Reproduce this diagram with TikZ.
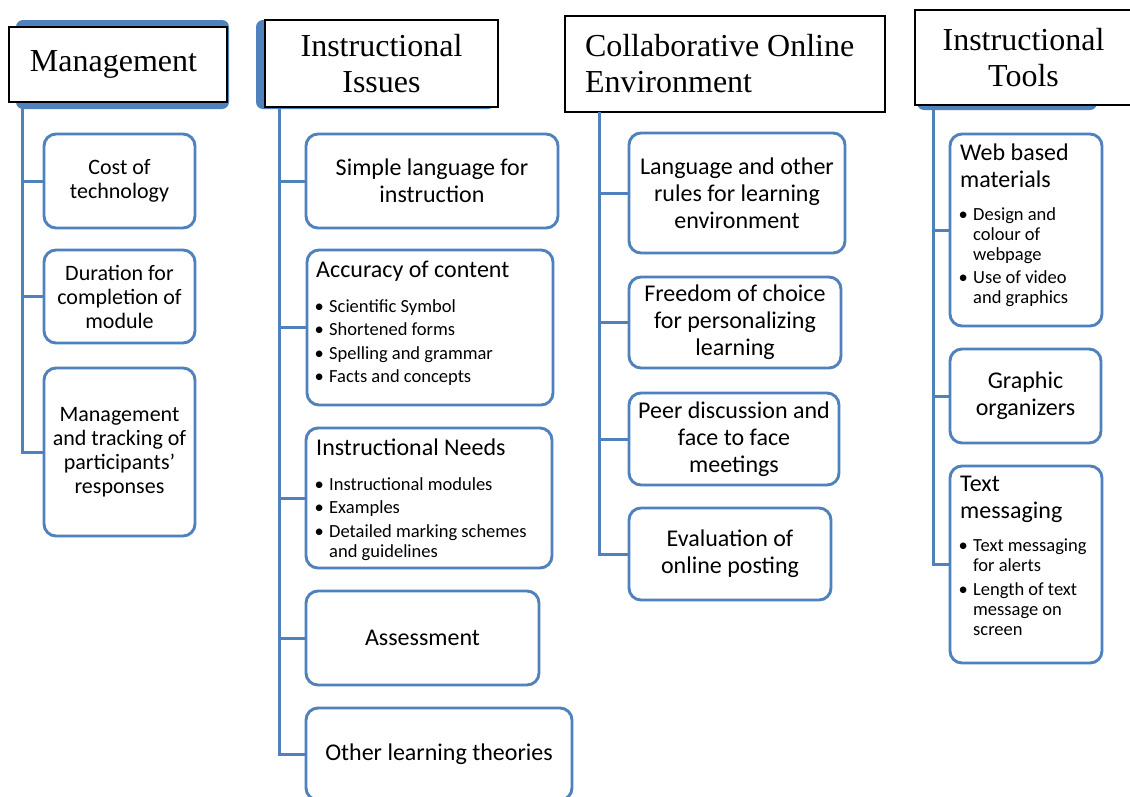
\documentclass[tikz,border=0pt]{standalone}
\usepackage{fontspec}
\setmainfont{Carlito}
\newfontfamily\headfont{Liberation Serif}
\definecolor{smartblue}{RGB}{79,129,189}

% lines of the sub-lists inside the boxes
\newcommand\hl[1]{\hbox{#1}}% heading line
\newcommand\bl[1]{\hbox{\makebox[13pt][l]{\kern-1.5pt\textbullet}#1}}% bulleted line
\newcommand\cl[1]{\hbox{\hspace*{13pt}#1}}% continued line of a bullet
\newcommand\itemgap{\vskip3.5pt}
\newcommand\listfont{\fontsize{18.5}{20}\selectfont\vskip13pt}

\tikzset{
  box/.style={draw=smartblue, line width=2.9pt, rounded corners=12pt, fill=white,
    inner sep=4pt, align=center, font=\fontsize{24}{27}\selectfont},
  mbox/.style={box, font=\fontsize{22}{24}\selectfont},
  band/.style={fill=smartblue, rounded corners=7pt, inner sep=0pt},
  head/.style={draw=black, line width=2.2pt, fill=white, inner sep=0pt,
    font=\headfont\fontsize{32}{36}\selectfont, align=center},
  conn/.style={draw=smartblue, line width=3pt},
  listtext/.style={anchor=north west, inner sep=0pt, font=\fontsize{24}{27}\selectfont},
}

\begin{document}
\begin{tikzpicture}[x=1pt,y=-1pt]
\useasboundingbox (0,0) rectangle (1130,796);
\clip (0,0) rectangle (1130,796);
\fill[white] (0,0) rectangle (1130,796);

% ---- column headers
\node[band, minimum width=213pt, minimum height=89pt] (mgmtband) at (122.5,64.5) {};
\node[head, minimum width=218pt, minimum height=75pt] (mgmt) at (118,64.5) {Management\hspace*{9pt}};

\node[band, minimum width=239pt, minimum height=89pt] (issband) at (375.5,64.5) {};
\node[head, minimum width=233pt, minimum height=87pt] (iss) at (381.5,63.5) {Instructional\\Issues};

\node[head, minimum width=320pt, minimum height=96pt] (coll) at (725,64)
  {\parbox{280pt}{Collaborative Online\\Environment}};

\node[band, minimum width=180pt, minimum height=90pt] (toolband) at (1007,65) {};
\node[head, minimum width=217pt, minimum height=95pt] (tool) at (1023.5,57.5) {Instructional\\Tools};

% ---- Management
\node[mbox, minimum width=151pt, minimum height=94pt] (cost) at (119.5,181) {Cost of\\technology};
\node[mbox, minimum width=151pt, minimum height=93pt] (dur) at (119.5,296.5) {Duration for\\completion of\\module};
\node[mbox, minimum width=151pt, minimum height=168pt] (track) at (119.5,452)
  {Management\\and tracking of\\participants'\\responses};

% ---- Instructional Issues
\node[box, minimum width=252pt, minimum height=94pt] (simple) at (432,181) {Simple language for\\instruction};
\node[box, minimum width=246pt, minimum height=155pt] (accur) at (430,327.5) {};
\node[listtext] (accurtext) at (316,258) {\vbox{%
  \hl{\strut Accuracy of content}\listfont
  \bl{Scientific Symbol}\itemgap
  \bl{Shortened forms}\itemgap
  \bl{Spelling and grammar}\itemgap
  \bl{Facts and concepts}}};
\node[box, minimum width=246pt, minimum height=140pt] (needs) at (429,498) {};
\node[listtext] (needstext) at (316,436) {\vbox{%
  \hl{\strut Instructional Needs}\listfont
  \bl{Instructional modules}\itemgap
  \bl{Examples}\itemgap
  \bl{Detailed marking schemes}
  \cl{and guidelines}}};
\node[box, minimum width=233pt, minimum height=94pt] (assess) at (422.5,638) {Assessment};
\node[box, minimum width=266pt, minimum height=92pt] (other) at (439,754) {Other learning theories};

% ---- Collaborative Online Environment
\node[box, minimum width=216pt, minimum height=120pt] (rules) at (737,193) {Language and other\\rules for learning\\environment};
\node[box, minimum width=212pt, minimum height=91pt] (choice) at (735,322.5) {Freedom of choice\\for personalizing\\learning};
\node[box, minimum width=210pt, minimum height=92pt] (peer) at (734,439) {Peer discussion and\\face to face\\meetings};
\node[box, minimum width=202pt, minimum height=92pt] (evalp) at (730,554) {Evaluation of\\online posting};

% ---- Instructional Tools
\node[box, minimum width=152pt, minimum height=192pt] (web) at (1026,230) {};
\node[listtext] (webtext) at (960,141) {\vbox{%
  \hl{\strut Web based}
  \hl{materials}\listfont
  \bl{Design and}
  \cl{colour of}
  \cl{webpage}\itemgap
  \bl{Use of video}
  \cl{and graphics}}};
\node[box, minimum width=151pt, minimum height=94pt] (graph) at (1025.5,396) {Graphic\\organizers};
\node[box, minimum width=152pt, minimum height=197pt] (sms) at (1026,564.5) {};
\node[listtext] (smstext) at (960,472.8) {\vbox{%
  \hl{\strut Text}
  \hl{messaging}\listfont
  \bl{Text messaging}
  \cl{for alerts}\itemgap
  \bl{Length of text}
  \cl{message on}
  \cl{screen}}};

% ---- tree connectors
\coordinate (mtop) at (22,109);
\draw[conn] (mtop) |- (cost.west);
\draw[conn] (mtop) |- (dur.west);
\draw[conn] (mtop) |- (track.west);
\coordinate (itop) at (279,109);
\draw[conn] (itop) |- (simple.west);
\draw[conn] (itop) |- (accur.west);
\draw[conn] (itop) |- (needs.west);
\draw[conn] (itop) |- (assess.west);
\draw[conn] (itop) |- (other.west);
\coordinate (ctop) at (599,112);
\draw[conn] (ctop) |- (rules.west);
\draw[conn] (ctop) |- (choice.west);
\draw[conn] (ctop) |- (peer.west);
\draw[conn] (ctop) |- (evalp.west);
\coordinate (ttop) at (933,110);
\draw[conn] (ttop) |- (web.west);
\draw[conn] (ttop) |- (graph.west);
\draw[conn] (ttop) |- (sms.west);
\end{tikzpicture}
\end{document}
